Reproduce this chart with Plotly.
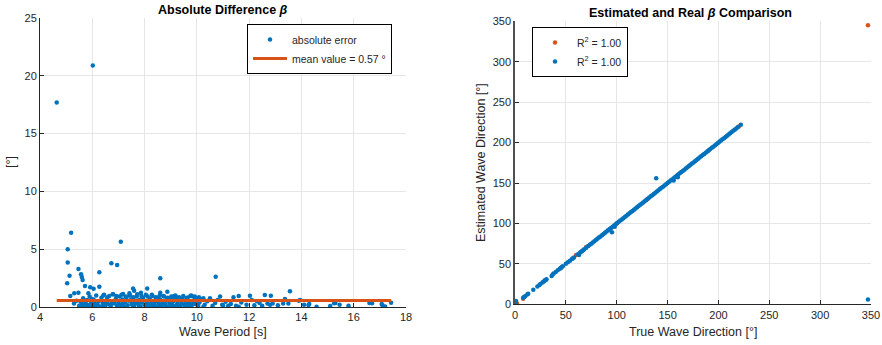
import plotly.graph_objects as go

# ---------------- Left: absolute error vs wave period ----------------
period = [4.64, 6.02, 5.19, 5.06, 5.06, 5.13, 5.04, 5.47, 5.57, 5.60, 5.63, 5.72,
          5.31, 5.16, 5.47, 5.85, 5.92, 6.05, 6.27, 6.27, 6.73, 6.95, 7.09, 7.18,
          7.56, 7.60, 7.42, 7.86, 8.60, 8.60, 8.10, 8.87, 9.13, 9.80, 10.25, 10.50,
          10.89, 11.40, 11.60, 12.03, 12.60, 12.83, 13.56, 13.37, 13.95, 14.27, 14.58,
          15.10, 15.25, 15.46, 15.80, 16.70, 17.07, 17.20, 17.43, 10.72, 10.25, 10.97,
          11.60, 12.30, 12.70, 12.80, 13.30,
          5.30, 5.40, 5.50, 5.55, 5.60, 5.65, 5.70, 5.75, 5.80, 5.85, 5.90, 5.95,
          6.00, 6.05, 6.10, 6.15, 6.20, 6.25, 6.30, 6.35, 6.40, 6.45, 6.50, 6.55,
          6.60, 6.65, 6.70, 6.75, 6.80, 6.85, 6.90, 6.95, 7.00, 7.05, 7.10, 7.15,
          7.20, 7.25, 7.30, 7.35, 7.40, 7.45, 7.50, 7.55, 7.60, 7.65, 7.70, 7.75,
          7.80, 7.85, 7.90, 7.95, 8.00, 8.05, 8.10, 8.15, 8.20, 8.25, 8.30, 8.35,
          8.40, 8.45, 8.50, 8.55, 8.60, 8.65, 8.70, 8.75, 8.80, 8.85, 8.90, 8.95,
          9.00, 9.05, 9.10, 9.15, 9.20, 9.25, 9.30, 9.35, 9.40, 9.45, 9.50, 9.55,
          9.60, 9.65, 9.70, 9.75, 9.80, 9.85, 9.90, 9.95, 10.00, 10.05, 10.10, 10.15,
          10.30, 10.40, 10.60, 10.70, 10.80, 11.00, 11.10, 11.30, 11.50, 11.70, 11.90,
          12.10, 12.20, 12.40, 12.50,
          5.62, 5.78, 5.98, 6.12, 6.38, 6.52, 6.72, 6.88, 7.02, 7.18, 7.32, 7.48,
          7.62, 7.78, 7.92, 8.08, 8.22, 8.38, 8.52, 8.68, 8.82, 8.98, 9.12, 9.28,
          9.42, 9.58, 9.72, 9.88, 10.02, 7.05, 7.55, 8.05, 8.55, 9.05, 9.55,
          14.10, 14.30, 13.10, 13.50, 13.90, 15.30, 16.60, 17.10, 12.90, 11.20,
          6.42, 6.58, 6.78, 6.92, 7.12, 7.28, 7.42, 7.58, 7.72, 7.88, 8.12, 8.28,
          8.42, 8.58, 8.72, 8.88, 9.02, 9.18, 9.32, 9.48, 9.62, 9.78, 9.92, 10.08]
abs_err = [17.7, 20.9, 6.43, 5.00, 3.84, 2.71, 2.05, 3.29, 2.83, 2.60, 2.34, 1.82,
           1.18, 0.95, 1.24, 1.18, 1.70, 1.58, 3.00, 1.76, 3.78, 3.63, 5.65, 1.12,
           1.61, 1.40, 1.18, 1.24, 2.48, 1.24, 1.60, 1.33, 0.95, 0.95, 0.75, 0.75,
           0.90, 0.84, 0.95, 0.98, 1.04, 0.98, 1.36, 0.69, 0.60, 0.17, 0.03,
           0.09, 0.32, 0.20, 0.10, 0.32, 0.26, 0.05, 0.37, 2.62, 0.03, 0.20,
           0.03, 0.50, 0.30, 0.20, 0.30,
           0.30, 0.55, 0.10, 0.45, 0.20, 0.75, 0.05, 0.35, 0.60, 0.15, 0.90, 0.40,
           0.10, 0.65, 0.30, 1.00, 0.20, 0.50, 0.05, 0.80, 0.35, 1.05, 0.15, 0.60,
           0.25, 0.95, 0.05, 0.45, 1.10, 0.30, 0.70, 0.10, 0.50, 0.90, 0.20, 0.65,
           0.05, 0.40, 0.85, 0.15, 0.55, 1.00, 0.25, 0.70, 0.10, 0.45, 0.90, 0.30,
           0.60, 0.05, 0.40, 0.80, 0.20, 1.05, 0.50, 0.10, 0.70, 0.35, 0.95, 0.15,
           0.55, 0.05, 0.80, 0.30, 0.65, 0.10, 0.45, 0.90, 0.25, 0.60, 0.05, 0.40,
           0.75, 0.20, 0.50, 0.10, 0.85, 0.30, 0.60, 0.05, 0.45, 0.70, 0.20, 0.55,
           0.10, 0.80, 0.35, 0.95, 0.15, 0.50, 0.85, 0.25, 0.60, 0.10, 0.40, 0.70,
           0.20, 0.50, 0.10, 0.35, 0.60, 0.15, 0.45, 0.25, 0.10, 0.40, 0.20,
           0.60, 0.15, 0.35, 0.10,
           0.25, 0.05, 0.70, 0.15, 0.02, 0.40, 0.20, 0.55, 0.25, 0.35, 0.02, 0.60,
           0.30, 0.15, 0.65, 0.30, 0.02, 0.25, 0.45, 0.20, 0.02, 0.30, 0.60, 0.15,
           0.25, 0.35, 0.02, 0.30, 0.20, 0.02, 0.05, 0.02, 0.05, 0.02, 0.05,
           0.20, 0.25, 0.15, 0.30, 0.55, 0.35, 0.35, 0.15, 0.30, 0.10,
           1.00, 0.85, 1.10, 0.95, 1.05, 0.90, 1.00, 0.85, 1.10, 0.95, 0.90, 1.05,
           0.85, 1.00, 0.95, 0.80, 0.90, 1.00, 0.85, 0.95, 0.80, 1.00, 0.90, 0.85]
mean_err = 0.57
mean_span = [4.64, 17.43]

# ---------------- Right: estimated vs true direction ----------------
true_dir = [1, 1, 8, 9, 10, 12, 13, 18, 22, 24, 25, 27, 28, 29, 30, 31, 36, 37, 38,
            40, 42, 44, 45, 46, 47, 50, 52, 54, 56, 57, 58, 62, 63, 64, 65, 66, 67,
            68, 70, 72, 73.5, 75, 76.5, 78, 79.5, 81, 82.5, 84, 85.5, 87, 88.5, 90,
            91.5, 93, 94.5, 96, 97.5, 99, 100.5, 102, 103.5, 105, 106.5, 108, 109.5,
            111, 112.5, 114, 115.5, 117, 118.5, 120, 121.5, 123, 124.5, 126, 127.5,
            129, 130.5, 132, 133.5, 135, 136.5, 138, 139.5, 141, 142.5, 144, 145.5,
            147, 148.5, 150, 151.5, 153, 154.5, 156, 157.5, 159, 160.5, 162, 163.5,
            165, 166.5, 168, 169.5, 171, 172.5, 174, 175.5, 177, 178.5, 180, 181.5,
            183, 184.5, 186, 187.5, 189, 190.5, 192, 193.5, 195, 196.5, 198, 199.5,
            201, 202.5, 204, 205.5, 207, 208.5, 210, 211.5, 213, 214.5, 216, 217.5,
            219, 222, 95.3, 138.8, 347, 98, 156, 160]
est_blue = [4, 2, 8, 9, 10, 12, 13, 18, 22, 24, 25, 27, 28, 29, 30, 31, 35, 37, 38,
            40, 42, 44, 45, 46, 47, 50, 52, 54, 56, 57, 58, 62, 61, 64, 65, 66, 67,
            68, 70, 72, 73.5, 75, 76.5, 78, 79.5, 81, 82.5, 84, 85.5, 87, 88.5, 90,
            91.5, 93, 94.5, 96, 97.5, 99, 100.5, 102, 103.5, 105, 106.5, 108, 109.5,
            111, 112.5, 114, 115.5, 117, 118.5, 120, 121.5, 123, 124.5, 126, 127.5,
            129, 130.5, 132, 133.5, 135, 136.5, 138, 139.5, 141, 142.5, 144, 145.5,
            147, 148.5, 150, 151.5, 153, 154.5, 156, 157.5, 159, 160.5, 162, 163.5,
            165, 166.5, 168, 169.5, 171, 172.5, 174, 175.5, 177, 178.5, 180, 181.5,
            183, 184.5, 186, 187.5, 189, 190.5, 192, 193.5, 195, 196.5, 198, 199.5,
            201, 202.5, 204, 205.5, 207, 208.5, 210, 211.5, 213, 214.5, 216, 217.5,
            219, 222, 89, 155.8, 6, 96, 153, 157]
true_dir_o = [0, 2, 8, 30, 45, 60, 70, 100, 130, 160, 190, 220, 347]
est_o = [0, 1, 7, 30, 45, 61, 71, 100, 130, 160, 190, 220, 345]

BLUE = "#0072BD"
ORANGE = "#D95319"
TXT = "#262626"
GRID = "#E6E6E6"
FONT = "Liberation Sans, Arial, sans-serif"

fig = go.Figure()
fig.add_trace(go.Scatter(x=period, y=abs_err, mode="markers", name="absolute error",
                         marker=dict(color=BLUE, size=4.5), legend="legend",
                         xaxis="x", yaxis="y"))
fig.add_trace(go.Scatter(x=mean_span, y=[mean_err, mean_err], mode="lines",
                         name="mean value = 0.57 °", line=dict(color=ORANGE, width=3),
                         legend="legend", xaxis="x", yaxis="y"))
fig.add_trace(go.Scatter(x=true_dir_o, y=est_o, mode="markers", name="R<sup>2</sup> = 1.00",
                         marker=dict(color=ORANGE, size=4.5), legend="legend2",
                         xaxis="x2", yaxis="y2"))
fig.add_trace(go.Scatter(x=true_dir, y=est_blue, mode="markers", name="R<sup>2</sup> = 1.00",
                         marker=dict(color=BLUE, size=4.5), legend="legend2",
                         xaxis="x2", yaxis="y2"))

ax = dict(showgrid=True, gridcolor=GRID, gridwidth=1, zeroline=False, showline=True,
          linecolor=TXT, linewidth=1, ticks="inside", ticklen=4, tickcolor=TXT,
          tickfont=dict(size=11, color=TXT, family=FONT), mirror=False,
          ticklabeloverflow="allow", automargin=False)

W = 882
fig.update_layout(
    width=882, height=345, autosize=False, margin=dict(l=0, r=0, t=0, b=0, pad=0),
    paper_bgcolor="white", plot_bgcolor="white",
    font=dict(family=FONT, color=TXT),
    xaxis=dict(ax, domain=[40/W, 406/W], range=[4, 18], tickvals=[4, 6, 8, 10, 12, 14, 16, 18],
               anchor="y"),
    yaxis=dict(ax, domain=[1-307/345, 1-18/345], range=[0, 25], tickvals=[0, 5, 10, 15, 20, 25],
               anchor="x"),
    xaxis2=dict(ax, domain=[515/W, 871/W], range=[0, 350],
                tickvals=[0, 50, 100, 150, 200, 250, 300, 350], anchor="y2"),
    yaxis2=dict(ax, domain=[1-304.3/345, 1-21.3/345], range=[0, 350],
                tickvals=[0, 50, 100, 150, 200, 250, 300, 350], anchor="x2",
                linecolor="#505050", linewidth=1.5),
    legend=dict(x=247/W, y=1-24/345, xanchor="left", yanchor="top",
                bordercolor="#000000", borderwidth=1, bgcolor="white",
                font=dict(size=10.5, color=TXT, family=FONT), tracegroupgap=0,
                itemsizing="trace", itemwidth=34),
    legend2=dict(x=532/W, y=1-27/345, xanchor="left", yanchor="top",
                 bordercolor="#000000", borderwidth=1, bgcolor="white",
                 font=dict(size=10.5, color=TXT, family=FONT), tracegroupgap=0,
                 itemsizing="trace", itemwidth=34),
    annotations=[
        dict(text="<b>Absolute Difference <i>β</i></b>", x=223/W, y=1-10/345,
             xref="paper", yref="paper", showarrow=False, font=dict(size=12.5, color="#000"),
             xanchor="center", yanchor="middle"),
        dict(text="<b>Estimated and Real <i>β</i> Comparison</b>", x=690/W, y=1-13/345,
             xref="paper", yref="paper", showarrow=False, font=dict(size=12.5, color="#000"),
             xanchor="center", yanchor="middle"),
        dict(text="Wave Period [s]", x=223/W, y=1-332/345, xref="paper", yref="paper",
             showarrow=False, font=dict(size=12.5, color=TXT), xanchor="center", yanchor="middle"),
        dict(text="[°]", x=11/W, y=1-162/345, xref="paper", yref="paper", textangle=-90,
             showarrow=False, font=dict(size=12.5, color=TXT), xanchor="center", yanchor="middle"),
        dict(text="True Wave Direction [°]", x=693/W, y=1-332/345, xref="paper", yref="paper",
             showarrow=False, font=dict(size=12.5, color=TXT), xanchor="center", yanchor="middle"),
        dict(text="Estimated Wave Direction [°]", x=481/W, y=1-163/345, xref="paper",
             yref="paper", textangle=-90, showarrow=False, font=dict(size=12.5, color=TXT),
             xanchor="center", yanchor="middle"),
    ],
)

post = ("document.documentElement.style.margin='0px';"
        "document.documentElement.style.overflow='hidden';"
        "document.body.style.margin='0px';document.body.style.overflow='hidden';")

fig.write_html("out.html", config={"displayModeBar": False}, post_script=post)
